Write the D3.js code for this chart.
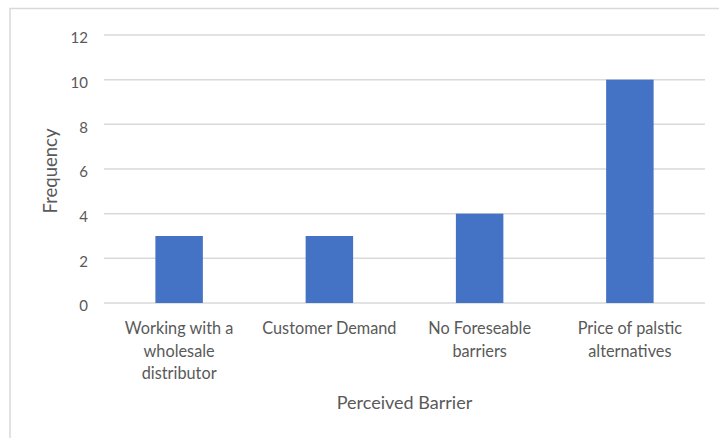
<!DOCTYPE html>
<html>
<head>
<meta charset="utf-8">
<script src="https://cdn.jsdelivr.net/npm/d3@7"></script>
<style>
  html, body { margin: 0; padding: 0; background: #fff; }
  svg { display: block; }
  text { font-family: Lato, "Open Sans", sans-serif; fill: #595959; }
</style>
</head>
<body>
<svg id="chart" width="719" height="438"></svg>
<script>
// Perceived barriers and how often each was reported
const categories = [
  ["Working with a", "wholesale", "distributor"],
  ["Customer Demand"],
  ["No Foreseable", "barriers"],
  ["Price of palstic", "alternatives"]
];
const categoryNames = ["Working with a wholesale distributor", "Customer Demand", "No Foreseable barriers", "Price of palstic alternatives"];
const frequency = [3, 3, 4, 10];
const yTicks = [0, 2, 4, 6, 8, 10, 12];
const xTitle = "Perceived Barrier";
const yTitle = "Frequency";

const svg = d3.select("#chart");
const plot = { left: 104, right: 705, top: 35, bottom: 303 };

// outer chart-area frame
svg.append("rect")
  .attr("x", 10).attr("y", 8.5)
  .attr("width", 740).attr("height", 460)
  .attr("fill", "none").attr("stroke", "#d9d9d9").attr("stroke-width", 1.5);

const x = d3.scaleBand()
  .domain(categoryNames)
  .range([plot.left, plot.right])
  .padding(0);

const y = d3.scaleLinear()
  .domain([0, 12])
  .range([plot.bottom, plot.top]);

// horizontal gridlines
svg.append("g")
  .selectAll("line")
  .data(yTicks)
  .join("line")
  .attr("x1", plot.left).attr("x2", plot.right)
  .attr("y1", d => y(d)).attr("y2", d => y(d))
  .attr("stroke", "#d9d9d9").attr("stroke-width", 1.5);

// y-axis tick labels, sitting slightly below their gridlines
const yAxis = d3.axisLeft(y).tickValues(yTicks).tickSize(0).tickPadding(0);
svg.append("g")
  .attr("transform", `translate(88,3)`)
  .call(yAxis)
  .call(g => g.select(".domain").remove())
  .call(g => g.selectAll("text")
    .attr("fill", "#595959")
    .style("font-family", "Lato, 'Open Sans', sans-serif")
    .style("font-size", "15px"));

// bars
const barFrac = 0.316;
const barW = x.bandwidth() * barFrac;
svg.append("g")
  .selectAll("rect")
  .data(frequency)
  .join("rect")
  .attr("x", (d, i) => x(categoryNames[i]) + (x.bandwidth() - barW) / 2)
  .attr("y", d => y(d))
  .attr("width", barW)
  .attr("height", d => y(0) - y(d))
  .attr("fill", "#4472c4");

// category labels (multi-line)
const labels = svg.append("g")
  .selectAll("text")
  .data(categories)
  .join("text")
  .attr("text-anchor", "middle")
  .attr("x", (d, i) => x(categoryNames[i]) + x.bandwidth() / 2)
  .attr("y", 334)
  .style("font-size", "16.3px");
labels.selectAll("tspan")
  .data(d => d)
  .join("tspan")
  .attr("x", function () { return this.parentNode.getAttribute("x"); })
  .attr("dy", (d, i) => i === 0 ? 0 : 22.5)
  .text(d => d);

// axis titles
svg.append("text")
  .attr("x", (plot.left + plot.right) / 2)
  .attr("y", 409)
  .attr("text-anchor", "middle")
  .style("font-size", "18px")
  .text(xTitle);

svg.append("text")
  .attr("transform", `translate(57,${(plot.top + plot.bottom) / 2 + 2}) rotate(-90)`)
  .attr("text-anchor", "middle")
  .style("font-size", "18.5px")
  .text(yTitle);
</script>
</body>
</html>
